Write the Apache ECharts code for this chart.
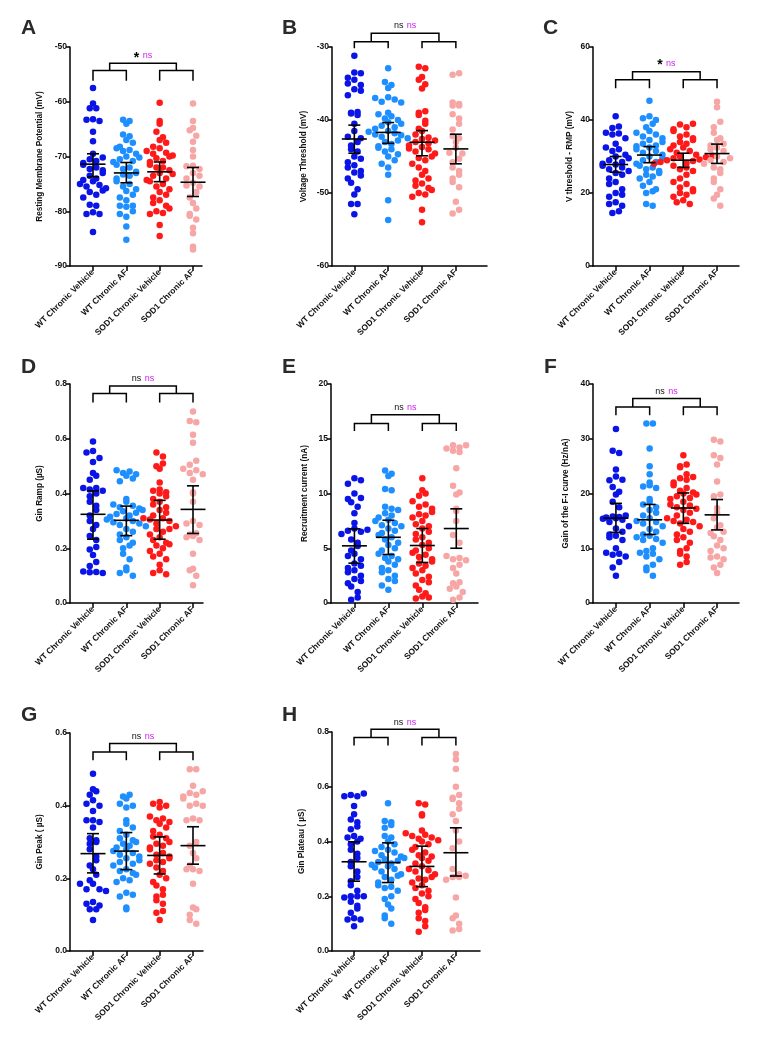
<!DOCTYPE html>
<html><head><meta charset="utf-8">
<script src="https://cdn.jsdelivr.net/npm/echarts@6/dist/echarts.min.js"></script>
<style>html,body{margin:0;padding:0;background:#fff}#c{width:757px;height:1049px}</style>
</head><body><div id="c"></div>
<script>
const categories = ['WT Chronic Vehicle','WT Chronic AF','SOD1 Chronic Vehicle','SOD1 Chronic AF'];

// ---- Panel A: Resting Membrane Potential (mV)
const aWtVeh = [-57.5,-60.3,-61.2,-61.2,-63.2,-63.3,-63.5,-65.5,-67.2,-69.5,-70.2,-70.5,-70.8,-71.2,-71.5,-72,-72.3,-72.5,-73,-73.5,-74,-74.3,-74.5,-75,-75.2,-75.5,-75.8,-76.2,-76.5,-77,-77.5,-78.8,-79,-80.2,-80.5,-80.5,-83.8];
const aWtAF = [-63.5,-63.3,-64,-66,-66.3,-67,-67.5,-68.2,-68.5,-68.8,-69,-69.5,-70,-70.2,-70.5,-70.8,-71,-71.5,-72,-72.3,-72.8,-73,-73.3,-73.5,-74,-74.5,-75,-75.5,-76,-76.3,-77,-77.5,-78,-79,-79,-79.2,-80,-80.5,-81,-82.8,-85.2];
const aSodVeh = [-60.2,-63.5,-64,-65.5,-66.5,-67,-67.5,-68.2,-68.5,-69,-69.3,-69.5,-69.8,-70,-70.3,-70.8,-71,-71.5,-72,-72,-72.5,-73,-73.2,-73.5,-74,-74.3,-74.5,-75,-75.5,-76,-76.5,-77,-77.5,-78,-78.5,-79,-79.5,-80,-80.3,-80.5,-82.5,-84.5];
const aSodAF = [-60.3,-63.5,-64.8,-65.2,-66.2,-67.3,-68.8,-70,-71.7,-71.8,-72.3,-73,-73.5,-74,-74.8,-75.3,-75.5,-76.5,-77.5,-78.5,-79.5,-80.5,-80.8,-81.5,-83,-84,-86.5,-87];
const aMean = [-71.4,-73.0,-72.8,-74.7];
const aLow = [-73.7,-74.8,-74.6,-77.3];
const aHigh = [-69.5,-71.1,-71.0,-72.0];
const aTicks = [-90,-80,-70,-60,-50];

// ---- Panel B: Voltage Threshold (mV)
const bWtVeh = [-31.2,-33.5,-33.6,-34.2,-34.5,-35,-35.2,-35.8,-36,-36.6,-38.9,-39,-39.1,-39.3,-40.5,-41.5,-42.3,-42.5,-43,-43.5,-44,-44.3,-45,-45.3,-45.8,-46.2,-46.5,-47,-47.2,-47.6,-48,-48.6,-49.5,-50.2,-51.5,-51.5,-52.9];
const bWtAF = [-32.9,-34.8,-35.2,-35.6,-36.9,-37,-37.2,-37.5,-37.6,-39,-39.2,-39.5,-39.8,-40,-40.3,-40.5,-40.8,-41,-41.2,-41.5,-41.6,-41.8,-42,-42.1,-42.3,-42.5,-42.8,-43,-43.3,-43.6,-43.8,-44,-44.3,-44.7,-45,-45.5,-46,-46.5,-47.5,-51,-53.7];
const bSodVeh = [-32.7,-32.9,-34.1,-34.5,-35.1,-35.7,-38.8,-39,-39.3,-40.1,-40.5,-41.2,-41.5,-42,-42.4,-42.6,-42.8,-43,-43.2,-43.5,-43.7,-43.9,-44,-44.3,-44.6,-45,-45.2,-45.5,-46,-46.5,-47,-47.5,-48,-48.3,-48.7,-49,-49.3,-49.6,-50,-50.2,-50.5,-52.3,-54];
const bSodAF = [-33.6,-33.8,-37.6,-37.8,-38,-38,-39.2,-39.8,-40.5,-41.3,-42.2,-42.5,-43,-43.8,-44.5,-44.6,-45.3,-45.8,-46.5,-47,-47.5,-48,-48.5,-49.2,-51.2,-52.3,-52.8];
const bMean = [-42.6,-41.7,-43.05,-43.96];
const bLow = [-44.55,-43.2,-44.9,-46.0];
const bHigh = [-40.7,-40.35,-41.45,-41.95];
const bTicks = [-60,-50,-40,-30];

// ---- Panel C: V threshold - RMP (mV)
const cWtVeh = [41,38.2,37.8,36.5,36.3,36,35,33.5,32.5,32,31.5,30.5,30,29.5,29,28.5,28,27.8,27.5,27,26.5,26,25.5,25,24,23,22.5,21,20,19.5,19,17.5,17,16.5,15,14.5];
const cWtAF = [45.3,41,40.5,40,39,38,37,36.5,36,35.5,35,34.5,34,33.5,33,32.8,32.5,32,31.5,31,30.5,30,29.5,29,28.5,28,27.5,27,26.5,26,25.5,25,24.5,24,23,22,21,20.5,20,17,16.5];
const cSodVeh = [39,38.8,38,37.5,37,36,35.5,35,34.5,34,33.5,33,32.5,32,31.5,31,30.5,30.2,30,29.8,29.5,29.2,29,28.8,28.5,28.2,28,27.5,27,26.5,26,25,24,23,22.5,21.5,21,20.5,20,19.5,19,18,17.5,17];
const cSodAF = [45,43.5,39.5,38,36.5,35,34.5,33.5,33,32.5,32,31.5,30,29.5,29,28.5,28,27,26.5,25.5,24,23,21,19.5,18.5,16.5];
const cMean = [27.8,30.4,29.0,30.8];
const cLow = [25.7,28.3,27.0,28.1];
const cHigh = [30.0,32.7,30.9,33.4];
const cTicks = [0,20,40,60];

// ---- Panel D: Gin Ramp (µS)
const dWtVeh = [0.59,0.555,0.55,0.53,0.515,0.475,0.465,0.45,0.42,0.42,0.415,0.41,0.4,0.39,0.37,0.355,0.34,0.32,0.3,0.285,0.27,0.245,0.23,0.205,0.195,0.175,0.15,0.135,0.115,0.112,0.113,0.11];
const dWtAF = [0.485,0.48,0.475,0.47,0.465,0.455,0.445,0.38,0.37,0.36,0.355,0.35,0.345,0.34,0.335,0.33,0.325,0.32,0.315,0.31,0.305,0.3,0.295,0.29,0.285,0.28,0.27,0.26,0.25,0.24,0.23,0.22,0.21,0.2,0.18,0.16,0.13,0.12,0.11,0.1];
const dSodVeh = [0.55,0.535,0.51,0.5,0.49,0.44,0.415,0.41,0.405,0.4,0.39,0.38,0.37,0.36,0.35,0.34,0.33,0.32,0.31,0.31,0.305,0.3,0.29,0.28,0.27,0.27,0.26,0.25,0.24,0.23,0.22,0.215,0.21,0.2,0.19,0.18,0.17,0.16,0.14,0.12,0.11,0.105];
const dSodAF = [0.7,0.665,0.66,0.615,0.585,0.52,0.505,0.49,0.485,0.475,0.47,0.45,0.405,0.4,0.37,0.3,0.29,0.285,0.255,0.25,0.245,0.24,0.23,0.18,0.125,0.12,0.1,0.065];
const dMean = [0.324,0.302,0.303,0.342];
const dLow = [0.233,0.246,0.233,0.254];
const dHigh = [0.41,0.354,0.375,0.428];
const dTicks = [0,0.2,0.4,0.6,0.8];

// ---- Panel E: Recruitment current (nA)
const eWtVeh = [11.4,11.2,10.9,10,9.6,9.5,9.2,8.8,8.2,7.3,6.8,6.7,6.6,6.5,6.3,5.8,5.5,5.2,4.8,4.5,4.3,4,3.6,3.4,3.2,3,2.8,2.5,2.2,2,1.8,1.5,1,0.5,0.3];
const eWtAF = [12.1,11.8,11.6,10.4,10.3,8.8,8.6,8.5,8.2,8,7.8,7.6,7.5,7.3,7.1,7,6.8,6.6,6.4,6.2,6,5.8,5.5,5.3,5,4.8,4.5,4.3,4.1,4,3.8,3.5,3.2,3,2.8,2.5,2.2,2,1.6,1.2];
const eSodVeh = [11.4,10.3,10,9.8,9.3,9,8.8,8.6,8.3,8.1,8,7.8,7.5,7.2,7,6.8,6.5,6.3,6,5.8,5.5,5.3,5,4.8,4.6,4.4,4.2,4,3.8,3.6,3.4,3.2,3,2.7,2.4,2.1,1.9,1.6,1.2,0.9,0.6,0.5,0.4];
const eSodAF = [14.4,14.4,14.2,14.1,13.9,13.8,12.3,10.7,10.1,9.9,8.6,8.4,7.5,6.2,5.5,4.3,4.1,4,3.9,3.5,3.2,2.7,1.9,1.8,1.5,1.3,1,0.5,0.3];
const eMean = [5.22,6.0,5.25,6.8];
const eLow = [3.64,4.43,3.7,5.0];
const eHigh = [6.77,7.56,6.8,8.6];
const eTicks = [0,5,10,15,20];

// ---- Panel F: Gain of the F-I curve (Hz/nA)
const fWtVeh = [31.8,27.8,27.4,24.4,23.1,22.5,22.4,21.2,20.3,19.8,18.5,17.5,16,15.8,15.7,15.6,15.5,15.4,15.2,14.8,14,13.6,13,12.5,12.3,12,11.5,10,9.2,9,8.8,8.5,7.5,6.5,5];
const fWtAF = [32.8,32.8,28.2,25,23.5,22,21.5,21.3,21,19,18.5,18,17.5,17,16.5,16,15.5,15,14.8,14.5,14,13.5,13,12.5,12.3,12,11.7,11.5,11,10,9.5,9.2,9,8.5,8,7,6.5,6,5];
const fSodVeh = [27,25.3,25,24.8,23.5,23,22.8,22.5,22,21.5,21,20.5,20.2,20,19.8,19.5,19.2,19,18.5,18,17.8,17.5,17.2,17,16.5,16,15.5,15.2,15,14.8,14.5,14,13.5,13,12.5,12,11.5,11,10,9.5,9,8.5,7.5,7];
const fSodAF = [29.8,29.5,27,26.5,25.3,22.2,19.8,19.5,17.3,16.5,15.5,14.2,13.8,13,12.8,12.2,11.5,10.5,10,9.5,8.5,8.3,8,7,6.5,5.5];
const fMean = [15.5,15.2,17.35,16.1];
const fLow = [12.9,12.5,14.55,13.35];
const fHigh = [18.2,18.0,20.1,18.9];
const fTicks = [0,10,20,30,40];

// ---- Panel G: Gin Peak ( µS)
const gWtVeh = [0.488,0.445,0.44,0.43,0.415,0.405,0.4,0.385,0.36,0.36,0.355,0.34,0.31,0.305,0.3,0.295,0.28,0.26,0.25,0.235,0.225,0.21,0.195,0.185,0.185,0.17,0.17,0.165,0.135,0.13,0.125,0.115,0.115,0.085];
const gWtAF = [0.43,0.425,0.42,0.405,0.4,0.395,0.36,0.35,0.34,0.33,0.32,0.31,0.305,0.3,0.295,0.29,0.285,0.28,0.275,0.27,0.265,0.26,0.255,0.25,0.245,0.24,0.235,0.225,0.22,0.215,0.21,0.2,0.195,0.19,0.16,0.155,0.15,0.12,0.115];
const gSodVeh = [0.41,0.405,0.4,0.395,0.37,0.365,0.36,0.355,0.35,0.34,0.33,0.32,0.315,0.31,0.3,0.295,0.29,0.285,0.28,0.27,0.265,0.26,0.255,0.25,0.245,0.24,0.23,0.22,0.21,0.2,0.19,0.18,0.17,0.155,0.15,0.14,0.13,0.11,0.105,0.085];
const gSodAF = [0.5,0.5,0.455,0.44,0.435,0.43,0.425,0.42,0.405,0.4,0.4,0.365,0.36,0.36,0.3,0.29,0.27,0.255,0.235,0.225,0.225,0.22,0.185,0.12,0.115,0.1,0.085,0.075];
const gMean = [0.268,0.275,0.263,0.29];
const gLow = [0.215,0.224,0.212,0.239];
const gHigh = [0.323,0.326,0.314,0.342];
const gTicks = [0,0.2,0.4,0.6];

// ---- Panel H: Gin Plateau ( µS)
const hWtVeh = [0.575,0.57,0.565,0.565,0.53,0.5,0.48,0.47,0.455,0.445,0.42,0.415,0.41,0.4,0.39,0.37,0.355,0.34,0.325,0.31,0.29,0.27,0.255,0.24,0.22,0.2,0.2,0.2,0.195,0.18,0.165,0.155,0.14,0.12,0.115,0.115,0.09];
const hWtAF = [0.54,0.475,0.47,0.46,0.45,0.42,0.415,0.4,0.39,0.38,0.37,0.365,0.36,0.35,0.345,0.34,0.335,0.33,0.325,0.32,0.315,0.31,0.305,0.3,0.29,0.28,0.275,0.27,0.26,0.25,0.24,0.235,0.23,0.22,0.2,0.19,0.17,0.155,0.13,0.12,0.1];
const hSodVeh = [0.54,0.535,0.5,0.495,0.44,0.43,0.425,0.42,0.415,0.41,0.405,0.4,0.39,0.38,0.37,0.36,0.35,0.345,0.34,0.33,0.32,0.31,0.3,0.295,0.29,0.28,0.27,0.265,0.26,0.25,0.24,0.23,0.22,0.21,0.2,0.19,0.175,0.16,0.15,0.14,0.12,0.11,0.09,0.07];
const hSodAF = [0.72,0.7,0.665,0.6,0.57,0.56,0.555,0.54,0.52,0.5,0.475,0.44,0.4,0.375,0.3,0.28,0.275,0.27,0.27,0.26,0.195,0.13,0.12,0.1,0.08,0.075];
const hMean = [0.326,0.323,0.309,0.359];
const hLow = [0.255,0.25,0.235,0.274];
const hHigh = [0.399,0.395,0.383,0.45];
const hTicks = [0,0.2,0.4,0.6,0.8];

// ---- significance labels (first black, second magenta)
const sigA = ['*','ns'], sigB = ['ns','ns'], sigC = ['*','ns'], sigD = ['ns','ns'];
const sigE = ['ns','ns'], sigF = ['ns','ns'], sigG = ['ns','ns'], sigH = ['ns','ns'];

// ================= layout / styles =================
const colors = ['#0a14e6','#1e8fff','#ff1a1a','#f7a6a6'];
const FONT = 'Liberation Sans, Arial, sans-serif';
const panels = [
  {letter:'A', lx:16, ly:13, name:'Resting Membrane Potential (mV)', groups:[aWtVeh,aWtAF,aSodVeh,aSodAF], mean:aMean, lo:aLow, hi:aHigh, ticks:aTicks, dec:0, sig:sigA,
   grid:{left:70, top:47, width:132, height:219}, xMin:0.31, xMax:4.27, gap:26, br:{drop:-56.15, bar:-54.3, top:-52.97, text:-51.6}},
  {letter:'B', lx:277, ly:13, name:'Voltage Threshold (mV)', groups:[bWtVeh,bWtAF,bSodVeh,bSodAF], mean:bMean, lo:bLow, hi:bHigh, ticks:bTicks, dec:0, sig:sigB,
   grid:{left:332, top:47, width:155, height:219}, xMin:0.34, xMax:4.92, gap:24, br:{drop:-30.18, bar:-29.27, top:-28.12, text:-27.1}},
  {letter:'C', lx:538, ly:13, name:'V threshold - RMP (mV)', groups:[cWtVeh,cWtAF,cSodVeh,cSodAF], mean:cMean, lo:cLow, hi:cHigh, ticks:cTicks, dec:0, sig:sigC,
   grid:{left:593, top:47, width:146, height:219}, xMin:0.33, xMax:4.65, gap:19, br:{drop:48.7, bar:51, top:53.2, text:55.5}},
  {letter:'D', lx:16, ly:352, name:'Gin Ramp (µS)', groups:[dWtVeh,dWtAF,dSodVeh,dSodAF], mean:dMean, lo:dLow, hi:dHigh, ticks:dTicks, dec:1, sig:sigD,
   grid:{left:70, top:384, width:133, height:219}, xMin:0.31, xMax:4.3, gap:26, br:{drop:0.732, bar:0.765, top:0.793, text:0.82}},
  {letter:'E', lx:277, ly:352, name:'Recruitment current (nA)', groups:[eWtVeh,eWtAF,eSodVeh,eSodAF], mean:eMean, lo:eLow, hi:eHigh, ticks:eTicks, dec:0, sig:sigE,
   grid:{left:331, top:384, width:147, height:219}, xMin:0.31, xMax:4.64, gap:22, br:{drop:15.7, bar:16.4, top:17.2, text:17.85}},
  {letter:'F', lx:539, ly:352, name:'Gain of the F-I curve (Hz/nA)', groups:[fWtVeh,fWtAF,fSodVeh,fSodAF], mean:fMean, lo:fLow, hi:fHigh, ticks:fTicks, dec:0, sig:sigF,
   grid:{left:593, top:384, width:146, height:219}, xMin:0.32, xMax:4.65, gap:23, br:{drop:34.3, bar:35.8, top:37.33, text:38.7}},
  {letter:'G', lx:16, ly:700, name:'Gin Peak ( µS)', groups:[gWtVeh,gWtAF,gSodVeh,gSodAF], mean:gMean, lo:gLow, hi:gHigh, ticks:gTicks, dec:1, sig:sigG,
   grid:{left:70, top:733, width:133, height:218}, xMin:0.31, xMax:4.3, gap:26, br:{drop:0.525, bar:0.548, top:0.571, text:0.591}},
  {letter:'H', lx:277, ly:700, name:'Gin Plateau ( µS)', groups:[hWtVeh,hWtAF,hSodVeh,hSodAF], mean:hMean, lo:hLow, hi:hHigh, ticks:hTicks, dec:1, sig:sigH,
   grid:{left:332, top:732, width:148, height:219}, xMin:0.35, xMax:4.71, gap:26, br:{drop:0.751, bar:0.78, top:0.81, text:0.836}}
];

// row-based scatter layout (like Prism): points whose pixel heights fall in the same row
// are spread side by side (interleaved slots), centred on the category.
function rowSwarm(values, yMin, pxY, pxX, rowH, spacing) {
  const rows = {};
  values.forEach((v,i)=>{ const r = Math.floor((v-yMin)*pxY/rowH); (rows[r] = rows[r] || []).push(i); });
  const off = new Array(values.length);
  Object.keys(rows).forEach(r=>{
    const ids = rows[r].sort((a,b)=>values[a]-values[b]);
    const n = ids.length, half = Math.ceil(n/2);
    ids.forEach((id,k)=>{
      let slot = (k%2===0) ? k/2 : half + (k-1)/2;
      if (Number(r)%2) slot = n-1-slot;
      off[id] = ((slot-(n-1)/2)*spacing)/pxX;
    });
  });
  return off;
}

const axisLineStyle = {color:'#000', width:1.5};
const option = {animation:false, backgroundColor:'#fff', title:[], grid:[], xAxis:[], yAxis:[], series:[]};

panels.forEach((p, gi) => {
  const yMin = p.ticks[0], yMax = p.ticks[p.ticks.length-1];
  const interval = p.ticks[1]-p.ticks[0];
  option.title.push({text:p.letter, left:p.lx, top:p.ly, textStyle:{fontSize:21, fontWeight:'bold', color:'#2a2a2a', fontFamily:FONT}});
  option.grid.push(Object.assign({containLabel:false}, p.grid));
  option.xAxis.push({type:'value', gridIndex:gi, min:p.xMin, max:p.xMax,
    axisLine:{show:true, onZero:false, lineStyle:axisLineStyle},
    splitLine:{show:false},
    axisTick:{show:true, customValues:[1,2,3,4], length:5, lineStyle:axisLineStyle},
    axisLabel:{show:true, customValues:[1,2,3,4], formatter:v=>categories[Math.round(v)-1], rotate:45, margin:5,
      fontSize:8.5, fontWeight:'bold', color:'#111', fontFamily:FONT}});
  option.yAxis.push({type:'value', gridIndex:gi, min:yMin, max:yMax, interval:interval,
    axisLine:{show:true, onZero:false, lineStyle:axisLineStyle},
    splitLine:{show:false},
    axisTick:{show:true, length:4, lineStyle:axisLineStyle},
    axisLabel:{show:true, margin:3, fontSize:8.5, fontWeight:'bold', color:'#111', fontFamily:FONT,
      formatter:v=>v.toFixed(p.dec)},
    name:p.name, nameLocation:'middle', nameGap:p.gap,
    nameTextStyle:{fontSize:8.2, fontWeight:'bold', color:'#111', fontFamily:FONT}});

  const pxY = p.grid.height/(yMax-yMin), pxX = p.grid.width/(p.xMax-p.xMin);
  p.groups.forEach((vals, ci) => {
    const off = rowSwarm(vals, yMin, pxY, pxX, 8.5, 6.5);
    option.series.push({type:'scatter', xAxisIndex:gi, yAxisIndex:gi, symbol:'circle', symbolSize:6.5,
      itemStyle:{color:colors[ci], opacity:1}, z:2, silent:true,
      data: vals.map((v,i)=>[ci+1+off[i], v])});
  });

  // mean + 95% CI
  option.series.push({type:'custom', xAxisIndex:gi, yAxisIndex:gi, z:5, silent:true,
    data: p.mean.map((m,i)=>[i+1, m, p.lo[i], p.hi[i]]),
    renderItem:(params, api)=>{
      const x=api.value(0);
      const pm=api.coord([x,api.value(1)]), pl=api.coord([x,api.value(2)]), ph=api.coord([x,api.value(3)]);
      const st={stroke:'#000', lineWidth:1.6};
      return {type:'group', children:[
        {type:'line', shape:{x1:pm[0]-12.5,y1:pm[1],x2:pm[0]+12.5,y2:pm[1]}, style:st},
        {type:'line', shape:{x1:pl[0],y1:pl[1],x2:ph[0],y2:ph[1]}, style:st},
        {type:'line', shape:{x1:pl[0]-6,y1:pl[1],x2:pl[0]+6,y2:pl[1]}, style:st},
        {type:'line', shape:{x1:ph[0]-6,y1:ph[1],x2:ph[0]+6,y2:ph[1]}, style:st}
      ]};
    }});

  // significance bracket
  const br = p.br;
  option.series.push({type:'custom', xAxisIndex:gi, yAxisIndex:gi, z:6, silent:true, clip:false,
    data:[[2.5, br.text]],
    renderItem:(params, api)=>{
      const c = (x,y)=>api.coord([x,y]);
      const st={stroke:'#000', lineWidth:1.5, fill:null};
      const pl = (pts)=>({type:'polyline', shape:{points:pts}, style:st});
      const t = c(2.5, br.text);
      const first = p.sig[0]==='*' ? '{s|*}' : '{n|'+p.sig[0]+'}';
      return {type:'group', children:[
        pl([c(1,br.drop), c(1,br.bar), c(2,br.bar), c(2,br.drop)]),
        pl([c(3,br.drop), c(3,br.bar), c(4,br.bar), c(4,br.drop)]),
        pl([c(1.5,br.bar), c(1.5,br.top), c(3.5,br.top), c(3.5,br.bar)]),
        {type:'text', x:t[0], y:t[1], style:{text:first+' {m|'+p.sig[1]+'}', align:'center', verticalAlign:'middle',
          rich:{s:{fontSize:14, fontWeight:'bold', fill:'#000', fontFamily:FONT, padding:[4,0,0,0]},
                n:{fontSize:9, fill:'#111', fontFamily:FONT},
                m:{fontSize:9, fill:'#cc22ee', fontFamily:FONT}}}}
      ]};
    }});
});

const chart = echarts.init(document.getElementById('c'), null, {renderer:'canvas'});
chart.setOption(option);
</script></body></html>
